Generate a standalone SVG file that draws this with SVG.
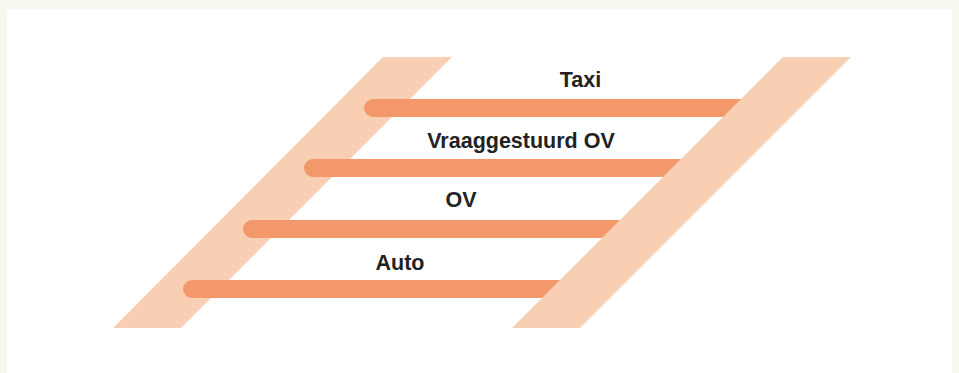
<svg xmlns="http://www.w3.org/2000/svg" width="959" height="373" viewBox="0 0 959 373">
  <style>
    .band { fill: #f9cfb3; }
    .bar { stroke: #f2986a; stroke-width: 18; stroke-linecap: round; fill: none; }
    .lbl { font-family: "Liberation Sans", Arial, sans-serif; font-weight: bold; font-size: 21.5px; fill: #222222; text-anchor: middle; }
  </style>
  <rect x="0" y="0" width="959" height="373" fill="#f5f8ee"/>
  <rect x="7" y="9" width="945" height="364" fill="#ffffff"/>
  <g id="rail-left">
    <polygon class="band" points="383,57 452,57 181,328 113,328"/>
  </g>
  <g id="connectors">
    <line id="bar-taxi" class="bar" x1="373" y1="108" x2="760" y2="108"/>
    <line id="bar-vraag" class="bar" x1="313" y1="168" x2="700" y2="168"/>
    <line id="bar-ov" class="bar" x1="252" y1="229" x2="640" y2="229"/>
    <line id="bar-auto" class="bar" x1="192" y1="289" x2="580" y2="289"/>
  </g>
  <g id="rail-right">
    <polygon class="band" points="783,57 851,57 580,328 512,328"/>
  </g>
  <g id="label-taxi"><text class="lbl" x="580.5" y="87">Taxi</text></g>
  <g id="label-vraag"><text class="lbl" x="521" y="147.5">Vraaggestuurd OV</text></g>
  <g id="label-ov"><text class="lbl" x="461" y="207">OV</text></g>
  <g id="label-auto"><text class="lbl" x="400" y="269.5">Auto</text></g>
</svg>
